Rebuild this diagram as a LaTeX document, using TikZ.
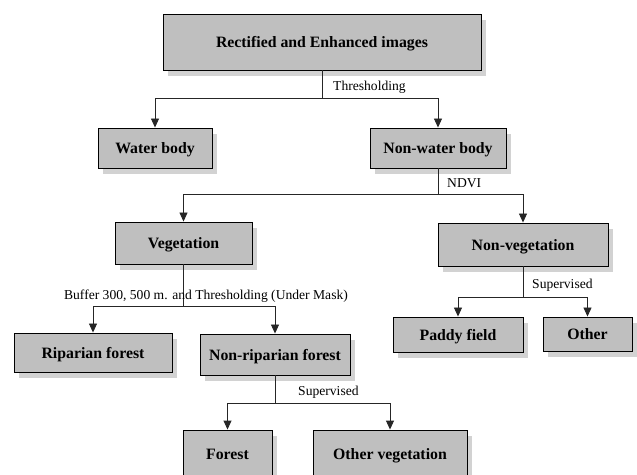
\documentclass[tikz,border=0pt]{standalone}
\usepackage{fontspec}
\setmainfont{Liberation Serif}
\usetikzlibrary{arrows.meta,shadows}
\tikzset{
  box/.style={draw=black, line width=0.9pt, fill=gray!50, inner sep=0pt,
    text height=12pt, text depth=0pt,
    font=\fontsize{15.8}{18}\selectfont\bfseries,
    drop shadow={shadow xshift=5pt, shadow yshift=-6pt, fill=gray!35, opacity=1}},
  lbl/.style={font=\fontsize{13.6}{16}\selectfont, inner sep=0pt},
  conn/.style={line width=0.9pt, draw=black!85},
  arr/.style={conn, -{Triangle[width=8pt,length=9pt]}}
}
\begin{document}
\begin{tikzpicture}[x=1pt,y=1pt]
\useasboundingbox (0,0) rectangle (637,474);
\clip (0,0) rectangle (637,474);
\node[box, minimum width=318pt, minimum height=56pt] (top) at (322,432) {Rectified and Enhanced images};
\node[box, minimum width=114pt, minimum height=40pt] (water) at (155,326) {Water body};
\node[box, minimum width=136pt, minimum height=40pt] (nonwater) at (438,326) {Non-water body};
\node[box, minimum width=137pt, minimum height=42pt] (veg) at (183.5,231) {Vegetation};
\node[box, minimum width=170pt, minimum height=43pt] (nonveg) at (523,229.5) {Non-vegetation};
\node[box, minimum width=158pt, minimum height=39pt] (rip) at (93,121.5) {Riparian forest};
\node[box, minimum width=150pt, minimum height=41pt] (nonrip) at (275,119.5) {Non-riparian forest};
\node[box, minimum width=130pt, minimum height=35pt] (paddy) at (458,139.5) {Paddy field};
\node[box, minimum width=89pt, minimum height=34pt] (other) at (587.5,140) {Other};
\node[box, minimum width=89pt, minimum height=46pt] (forest) at (227.5,21) {Forest};
\node[box, minimum width=154pt, minimum height=46pt] (otherveg) at (390,21) {Other vegetation};

\coordinate (j1) at (top.south |- 0,376);
\coordinate (j2) at (nonwater.south |- 0,280);
\coordinate (j3) at (veg.south |- 0,168);
\coordinate (j4) at (nonveg.south |- 0,177);
\coordinate (j5) at (nonrip.south |- 0,71);

\draw[conn] (top.south) -- (j1);
\draw[arr] (j1) -| (water.north);
\draw[arr] (j1) -| (nonwater.north);
\draw[conn] (nonwater.south) -- (j2);
\draw[arr] (j2) -| (veg.north);
\draw[arr] (j2) -| (nonveg.north);
\draw[conn] (veg.south) -- (j3);
\draw[arr] (j3) -| (rip.north);
\draw[arr] (j3) -| (nonrip.north);
\draw[conn] (nonveg.south) -- (j4);
\draw[arr] (j4) -| (paddy.north);
\draw[arr] (j4) -| (other.north);
\draw[conn] (nonrip.south) -- (j5);
\draw[arr] (j5) -| (forest.north);
\draw[arr] (j5) -| (otherveg.north);

\node[lbl, anchor=west] (l1) at (333,387) {Thresholding};
\node[lbl, anchor=west] (l2) at (447,291) {NDVI};
\node[lbl] (l3) at (206,178) {Buffer 300, 500 m. and Thresholding (Under Mask)};
\node[lbl, anchor=west] (l4) at (532,189) {Supervised};
\node[lbl, anchor=west] (l5) at (298,82) {Supervised};
\end{tikzpicture}
\end{document}
